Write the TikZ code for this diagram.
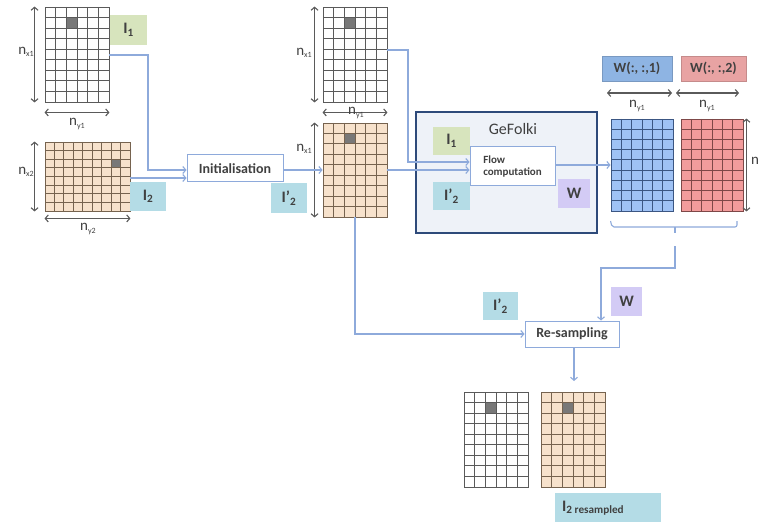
\documentclass[tikz,border=0pt]{standalone}
\usepackage{fontspec}
\setmainfont{Carlito}
\usetikzlibrary{arrows.meta,calc}
\definecolor{txt}{HTML}{404040}
\definecolor{lgreen}{HTML}{D7E4BD}
\definecolor{lblue}{HTML}{B4DCE6}
\definecolor{lviolet}{HTML}{D3CBF5}
\definecolor{tanfill}{HTML}{F7E2CC}
\definecolor{tanline}{HTML}{76634F}
\definecolor{wline}{HTML}{5A5A5A}
\definecolor{bfill}{HTML}{9FC2F5}
\definecolor{bline}{HTML}{3B5683}
\definecolor{rfill}{HTML}{F29C9C}
\definecolor{rline}{HTML}{7E4848}
\definecolor{wboxa}{HTML}{8EB4E3}
\definecolor{wboxb}{HTML}{E8A3A3}
\definecolor{conn}{HTML}{8EAADB}
\definecolor{gfborder}{HTML}{2E4A7A}
\definecolor{gffill}{HTML}{EEF2F8}
\definecolor{darkcellc}{HTML}{787878}
\definecolor{dimc}{HTML}{5A5A5A}
\tikzset{
  lab/.style={inner sep=0pt, text=txt, font=\bfseries\fontsize{16}{16}\selectfont},
  procbox/.style={draw=conn, fill=white, line width=1pt, text=txt, inner sep=0pt, font=\bfseries\fontsize{14}{14}\selectfont},
  connector/.style={draw=conn, line width=1.1pt, -{Straight Barb[length=3pt,width=7pt]}},
  dimarrow/.style={draw=dimc, line width=1.1pt, {Straight Barb[length=3pt,width=7pt]}-{Straight Barb[length=3pt,width=7pt]}},
  dimlab/.style={text=txt, inner sep=0pt},
}
\newcommand\boxat[7]{%
  \node[#6, minimum width={(#4-#2)*1pt}, minimum height={(#5-#3)*1pt}] (#1) at ({(#2+#4)/2},{(#3+#5)/2}) {#7};}
\newcommand\gridmat[9]{%
  \node[fill=#8, draw=#9, line width=0.9pt, inner sep=0pt, minimum width={(#4-#2)*1pt}, minimum height={(#5-#3)*1pt}] (#1) at ({(#2+#4)/2},{(#3+#5)/2}) {};
  \pgfmathsetmacro\gdx{(#4-#2)/#6}\pgfmathsetmacro\gdy{(#5-#3)/#7}%
  \xdef\gxo{#2}\xdef\gyo{#3}%
  \pgfmathtruncatemacro\gnc{#6-1}\pgfmathtruncatemacro\gnr{#7-1}%
  \foreach \i in {1,...,\gnc} \draw[#9, line width=0.9pt] ({#2+\i*\gdx},#3) -- ({#2+\i*\gdx},#5);
  \foreach \j in {1,...,\gnr} \draw[#9, line width=0.9pt] (#2,{#3+\j*\gdy}) -- (#4,{#3+\j*\gdy});
}
\newcommand\darkcell[2]{\fill[darkcellc] ({\gxo+#1*\gdx+0.5},{\gyo+#2*\gdy+0.5}) rectangle ({\gxo+(#1+1)*\gdx-0.5},{\gyo+(#2+1)*\gdy-0.5});}
\newcommand\nsub[1]{{\fontsize{15}{15}\selectfont n}\raisebox{-2.5pt}{\fontsize{8}{8}\selectfont #1}}
\begin{document}
\begin{tikzpicture}[x=1pt,y=-1pt]
\useasboundingbox (0,0) rectangle (758,524);
\fill[white] (0,0) rectangle (758,524);

% grids
\gridmat{g1}{45}{7}{109}{102}{6}{9}{white}{wline}\darkcell{2}{1}
\gridmat{g2}{45}{142}{130}{211}{9}{8}{tanfill}{tanline}\darkcell{7}{2}
\gridmat{g3}{323}{7}{387}{102}{6}{9}{white}{wline}\darkcell{2}{1}
\gridmat{g4}{323}{123}{387}{217}{6}{9}{tanfill}{tanline}\darkcell{2}{1}
\gridmat{gb}{611}{119}{673}{211}{6}{9}{bfill}{bline}
\gridmat{gr}{681}{119}{743}{211}{6}{9}{rfill}{rline}
\gridmat{g5}{464}{392}{528}{487}{6}{9}{white}{wline}\darkcell{2}{1}
\gridmat{g6}{541}{392}{605}{487}{6}{9}{tanfill}{tanline}\darkcell{2}{1}

% dimension arrows
\draw[dimarrow] ([xshift=-10pt]g1.north west) -- ([xshift=-10pt]g1.south west);
\draw[dimarrow] ([yshift=-10pt]g1.south west) -- ([yshift=-10pt]g1.south east);
\node[dimlab] (nx1a) at (26,52) {\nsub{x1}};
\node[dimlab] (ny1a) at (77,124) {\nsub{y1}};
\draw[dimarrow] ([xshift=-10pt]g2.north west) -- ([xshift=-10pt]g2.south west);
\draw[dimarrow] ([yshift=-7pt]g2.south west) -- ([yshift=-7pt]g2.south east);
\node[dimlab] (nx2) at (26,172) {\nsub{x2}};
\node[dimlab] (ny2) at (88,229) {\nsub{y2}};
\draw[dimarrow] ([xshift=-8pt]g3.north west) -- ([xshift=-8pt]g3.south west);
\draw[dimarrow] ([yshift=-10pt]g3.south west) -- ([yshift=-10pt]g3.south east);
\node[dimlab] (nx1b) at (304,53) {\nsub{x1}};
\node[dimlab] (ny1b) at (356,113) {\nsub{y1}};
\draw[dimarrow] ([xshift=-8pt]g4.north west) -- ([xshift=-8pt]g4.south west);
\node[dimlab] (nx1c) at (304,149) {\nsub{x1}};
\draw[dimarrow] (607,93) -- (672,93);
\draw[dimarrow] (676,93) -- (739,93);
\node[dimlab] (ny1c) at (637,106) {\nsub{y1}};
\node[dimlab] (ny1d) at (707,106) {\nsub{y1}};
\draw[dimarrow] ([xshift=3pt]gr.north east) -- ([xshift=3pt]gr.south east);
\node[dimlab, anchor=west] (nx1d) at (751,162) {\nsub{x1}};

% GeFolki block
\node[draw=gfborder, fill=gffill, line width=1.8pt, minimum width=181pt, minimum height=121pt, inner sep=0pt] (gefolki) at (506.5,172.5) {};
\node[text=txt, font=\fontsize{16}{16}\selectfont] (gtitle) at (513,129) {GeFolki};
\boxat{lI1b}{433}{127}{470}{155}{lab, fill=lgreen}{I\textsubscript{1}}
\boxat{lI2pb}{433}{182}{470}{210}{lab, fill=lblue}{I’\textsubscript{2}}
\boxat{lW}{558}{179}{590}{208}{lab, fill=lviolet}{W}
\boxat{flow}{470}{147}{555}{186}{procbox, font=\bfseries\fontsize{11}{12}\selectfont, align=left}{Flow\\computation}

% labels
\boxat{lI1}{110}{15}{147}{45}{lab, fill=lgreen}{I\textsubscript{1}}
\boxat{lI2}{130}{182}{166}{211}{lab, fill=lblue}{I\textsubscript{2}}
\boxat{init}{187}{155}{283}{182}{procbox}{Initialisation}
\boxat{lI2p}{271}{183}{307}{213}{lab, fill=lblue}{I’\textsubscript{2}}
\boxat{w1}{602}{56}{672}{81}{lab, fill=wboxa, draw=wboxa!85!black, line width=0.6pt, font=\bfseries\fontsize{14}{14}\selectfont}{W(:, :,1)}
\boxat{w2}{681}{56}{746}{81}{lab, fill=wboxb, draw=wboxb!85!black, line width=0.6pt, font=\bfseries\fontsize{14}{14}\selectfont}{W(:, :,2)}
\boxat{resamp}{525}{321}{619}{347}{procbox}{Re-sampling}
\boxat{lW2}{611}{287}{642}{316}{lab, fill=lviolet}{W}
\boxat{lI2pc}{483}{292}{518}{320}{lab, fill=lblue}{I’\textsubscript{2}}
\boxat{lres}{555}{493}{661}{522}{lab, fill=lblue}{}
\node[lab, anchor=west] (lrestxt) at (562,508) {I\textsubscript{2 resampled}};

% connectors
\draw[connector] (g1.east |- 0,55) -| (148,170) -- (init.west |- 0,170);
\draw[connector] (g2.east |- 0,178) -- (init.west |- 0,178);
\draw[connector] (init.east |- 0,170) -- (g4.west |- 0,170);
\draw[connector] (g3.east |- 0,50) -| (408,162) -- (flow.west |- 0,162);
\draw[connector] (g4.east |- 0,170) -- (flow.west |- 0,170);
\draw[connector] (flow.east |- 0,165) -- (gb.west |- 0,165);
\draw[draw=conn, line width=1.1pt, rounded corners=2pt] (gb.south west |- 0,221) -- (612,227) -- (737,227) -- (737,221);
\draw[draw=conn, line width=1.1pt] (675,227) -- (675,233);
\coordinate (bcut) at (675,246);
\draw[connector] (bcut) -- (675,268) -| (resamp.north -| 601,0);
\draw[connector] (g4.south) |- (resamp.west);
\coordinate (rend) at (574,381);
\draw[connector] (resamp.south -| rend) -- (rend);
\end{tikzpicture}
\end{document}
